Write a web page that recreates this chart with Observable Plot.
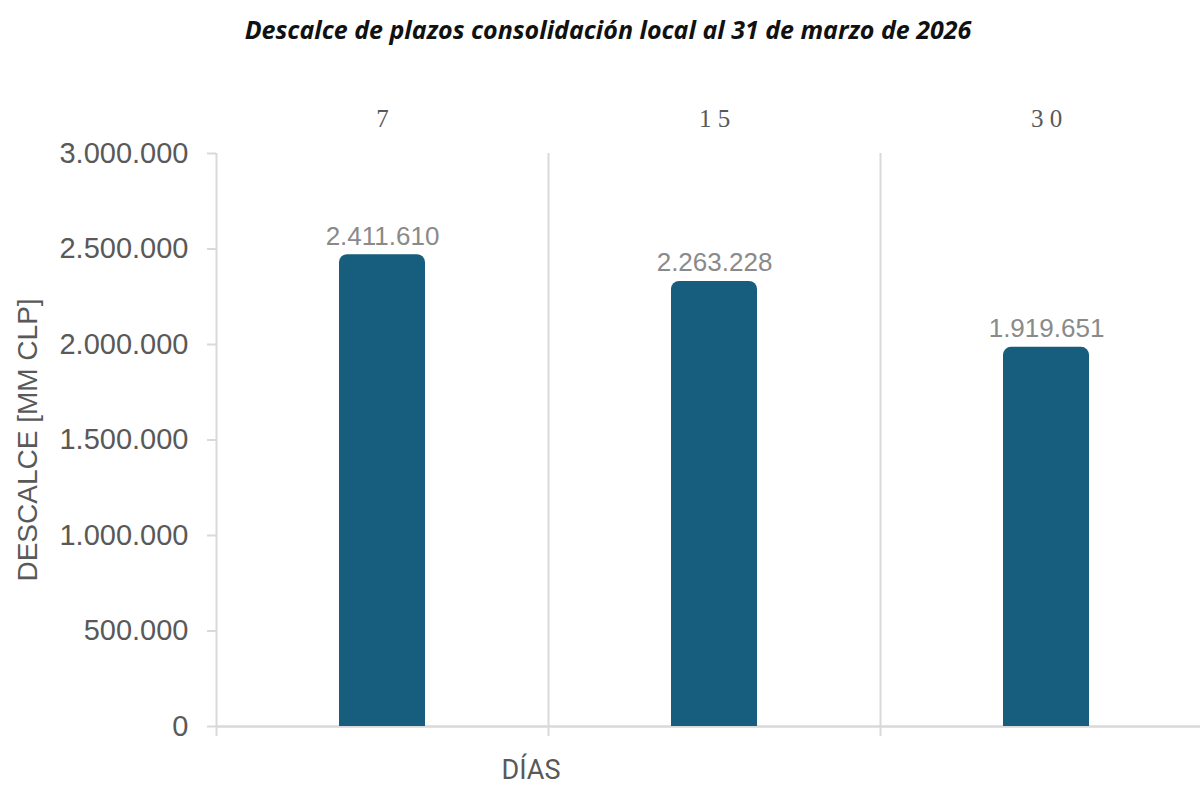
<!DOCTYPE html>
<html>
<head>
<meta charset="utf-8">
<script src="https://cdn.jsdelivr.net/npm/d3@7"></script>
<script src="https://cdn.jsdelivr.net/npm/@observablehq/plot@0.6"></script>
<style>
  html, body { margin: 0; padding: 0; background: #fff; }
  #wrap { width: 1200px; height: 787px; position: relative; overflow: hidden; }
  #title { height: 56px; line-height: 58px; text-align: center; font-family: "Open Sans", Lato, sans-serif;
           font-weight: 700; font-style: italic; font-size: 25px; color: #111; padding-left: 16px; }
</style>
</head>
<body>
<div id="wrap">
  <div id="title">Descalce de plazos consolidación local al 31 de marzo de 2026</div>
  <div id="chart"></div>
</div>
<script>
// Categories (días) and their header labels as printed
const categories = ["7", "15", "30"];
const headerLabels = ["7", "1 5", "3 0"];
const barValues = [2470000, 2330000, 1985000];
const valueLabels = ["2.411.610", "2.263.228", "1.919.651"];
// Y tick values
const yTicks = [0, 500000, 1000000, 1500000, 2000000, 2500000, 3000000];

const data = categories.map((c, i) => ({i, cat: c, header: headerLabels[i], value: barValues[i], label: valueLabels[i]}));

const loc = d3.formatLocale({decimal: ",", thousands: ".", grouping: [3], currency: ["$", ""]});
const fmt = loc.format(",d");

const barColor = "#175e7e";
const gridColor = "#d9d9d9";
const band = 332, barW = 86, inset = (band - barW) / 2;

const chart = Plot.plot({
  width: 1200,
  height: 731,
  marginLeft: 216,
  marginRight: 0,
  marginTop: 97,
  marginBottom: 61,
  style: {background: "#fff", overflow: "hidden"},
  x: {type: "linear", domain: [0, 3], range: [216, 216 + 3 * band], axis: null},
  y: {domain: [0, 3000000], axis: null},
  marks: [
    // vertical gridlines at category boundaries (incl. the y axis line)
    Plot.ruleX(d3.range(categories.length + 1), {y1: 0, y2: 3000000, stroke: gridColor, strokeWidth: 2}),
    // x ticks below the baseline
    Plot.axisX({ticks: d3.range(categories.length + 1), tickSize: 10, tickFormat: () => "", stroke: gridColor, strokeWidth: 2, anchor: "bottom", label: null}),
    // baseline
    Plot.ruleY([0], {stroke: gridColor, strokeWidth: 2.5}),
    // y axis ticks + labels
    Plot.axisY({ticks: yTicks, tickFormat: fmt, tickSize: 9, tickPadding: 19, stroke: gridColor, strokeWidth: 2,
                fontSize: 29, fill: "#595959", label: null, anchor: "left",
                fontFamily: "'Liberation Sans', Arial, sans-serif"}),
    // bars: rounded rect + square bottom overlay
    Plot.rectY(data, {x1: "i", x2: d => d.i + 1, y1: 0, y2: "value", insetLeft: inset, insetRight: inset, fill: barColor, rx: 8}),
    Plot.rectY(data, {x1: "i", x2: d => d.i + 1, y1: 0, y2: d => d.value / 2, insetLeft: inset, insetRight: inset, fill: barColor}),
    // value labels
    Plot.text(data, {x: d => d.i + 0.5, y: "value", text: "label", lineAnchor: "bottom", dy: -10, fontSize: 26, fill: "#8a8a8a",
                     fontFamily: "'Liberation Sans', Arial, sans-serif"}),
    // header category labels
    Plot.text(data, {x: d => d.i + 0.5, text: "header", frameAnchor: "top", lineAnchor: "middle", dy: -35, fontSize: 25, fill: "#595959",
                     fontFamily: "'Liberation Serif', 'Times New Roman', serif"}),
    // y axis title
    Plot.text(["DESCALCE [MM CLP]"], {frameAnchor: "left", textAnchor: "middle", rotate: -90, dx: -188, fontSize: 28, fill: "#595959",
                     fontFamily: "'Liberation Sans', Arial, sans-serif"}),
    // x axis title
    Plot.text(["DÍAS"], {frameAnchor: "bottom-left", dx: 285, dy: 52, fontSize: 27, fill: "#595959",
                     fontFamily: "Roboto, 'Liberation Sans', sans-serif"})
  ]
});
document.getElementById("chart").appendChild(chart);
</script>
</body>
</html>
